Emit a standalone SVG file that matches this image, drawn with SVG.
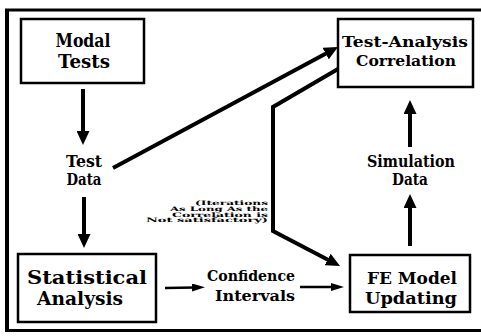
<svg xmlns="http://www.w3.org/2000/svg" width="481" height="336" viewBox="0 0 481 336">
<style>
.box{fill:#fff;stroke:#000;stroke-width:2.5}
.t{font-family:"DejaVu Serif","Liberation Serif",serif;font-weight:bold;text-anchor:middle;fill:#000}
.s{font-family:"DejaVu Serif","Liberation Serif",serif;font-weight:bold;text-anchor:end;fill:#000;font-size:6.2px}
.c{fill:none;stroke:#000;stroke-width:4}
.h{fill:none;stroke:#000;stroke-width:2.5}
</style>
<defs>
<marker id="ah" markerUnits="userSpaceOnUse" markerWidth="14" markerHeight="13" refX="3" refY="6.5" orient="auto">
<path d="M0,0 L14,6.5 L0,13 z" fill="#000"/>
</marker>
<marker id="as" markerUnits="userSpaceOnUse" markerWidth="13" markerHeight="8" refX="3" refY="4" orient="auto">
<path d="M0,0 L13,4 L0,8 z" fill="#000"/>
</marker>
</defs>
<rect width="481" height="336" fill="#fff"/>
<g id="frame">
<line x1="5" y1="10" x2="481" y2="10" stroke="#000" stroke-width="3"/>
<line x1="7" y1="9" x2="7" y2="332" stroke="#000" stroke-width="4"/>
<line x1="5" y1="330.5" x2="481" y2="330.5" stroke="#000" stroke-width="3"/>
</g>
<g id="modal-tests">
<rect class="box" x="21" y="19" width="123" height="64"/>
<text class="t" x="83" y="47" font-size="18" textLength="55" lengthAdjust="spacingAndGlyphs">Modal</text>
<text class="t" x="84" y="68" font-size="18" textLength="52" lengthAdjust="spacingAndGlyphs">Tests</text>
</g>
<g id="test-data">
<text class="t" x="84" y="167" font-size="16" textLength="36" lengthAdjust="spacingAndGlyphs">Test</text>
<text class="t" x="84" y="185" font-size="16" textLength="35" lengthAdjust="spacingAndGlyphs">Data</text>
</g>
<g id="statistical-analysis">
<rect class="box" x="18" y="254" width="138" height="68" stroke-width="3"/>
<text class="t" x="87" y="284" font-size="18" textLength="120" lengthAdjust="spacingAndGlyphs">Statistical</text>
<text class="t" x="80" y="305" font-size="18" textLength="86" lengthAdjust="spacingAndGlyphs">Analysis</text>
</g>
<g id="confidence-intervals">
<text class="t" x="251" y="281" font-size="15" textLength="88" lengthAdjust="spacingAndGlyphs">Confidence</text>
<text class="t" x="255" y="301" font-size="15" textLength="80" lengthAdjust="spacingAndGlyphs">Intervals</text>
</g>
<g id="fe-model-updating">
<rect class="box" x="350" y="255" width="120" height="57"/>
<text class="t" x="412" y="284" font-size="17" textLength="90" lengthAdjust="spacingAndGlyphs">FE Model</text>
<text class="t" x="411" y="304" font-size="17" textLength="92" lengthAdjust="spacingAndGlyphs">Updating</text>
</g>
<g id="simulation-data">
<text class="t" x="411" y="167" font-size="16" textLength="88" lengthAdjust="spacingAndGlyphs">Simulation</text>
<text class="t" x="410" y="185" font-size="16" textLength="36" lengthAdjust="spacingAndGlyphs">Data</text>
</g>
<g id="test-analysis-correlation">
<rect class="box" x="338" y="19" width="135" height="68"/>
<text class="t" x="405" y="47" font-size="15" textLength="126" lengthAdjust="spacingAndGlyphs">Test-Analysis</text>
<text class="t" x="406" y="66" font-size="15" textLength="100" lengthAdjust="spacingAndGlyphs">Correlation</text>
</g>
<g id="iteration-note">
<text class="s" x="268" y="205" textLength="73" lengthAdjust="spacingAndGlyphs">(Iterations</text>
<text class="s" x="268" y="210.8" textLength="98" lengthAdjust="spacingAndGlyphs">As Long As the</text>
<text class="s" x="268" y="216.6" textLength="96" lengthAdjust="spacingAndGlyphs">Correlation is</text>
<text class="s" x="268" y="222.4" textLength="122" lengthAdjust="spacingAndGlyphs">Not satisfactory)</text>
</g>
<g id="connectors">
<line class="c" x1="83" y1="89" x2="83" y2="134" marker-end="url(#ah)"/>
<line class="c" x1="84" y1="197" x2="84" y2="237" marker-end="url(#ah)"/>
<line class="c" x1="113" y1="168" x2="328.3" y2="52.2" marker-end="url(#ah)"/>
<polyline class="c" points="338,69 273,107 273,231 330.3,260.9" marker-end="url(#ah)"/>
<line class="c" x1="410" y1="246" x2="410" y2="205" marker-end="url(#ah)"/>
<line class="c" x1="410" y1="147" x2="410" y2="111" marker-end="url(#ah)"/>
<line class="h" x1="165" y1="288" x2="195" y2="287.5" marker-end="url(#as)"/>
<line class="h" x1="300" y1="287" x2="334" y2="287" marker-end="url(#as)"/>
</g>
</svg>
